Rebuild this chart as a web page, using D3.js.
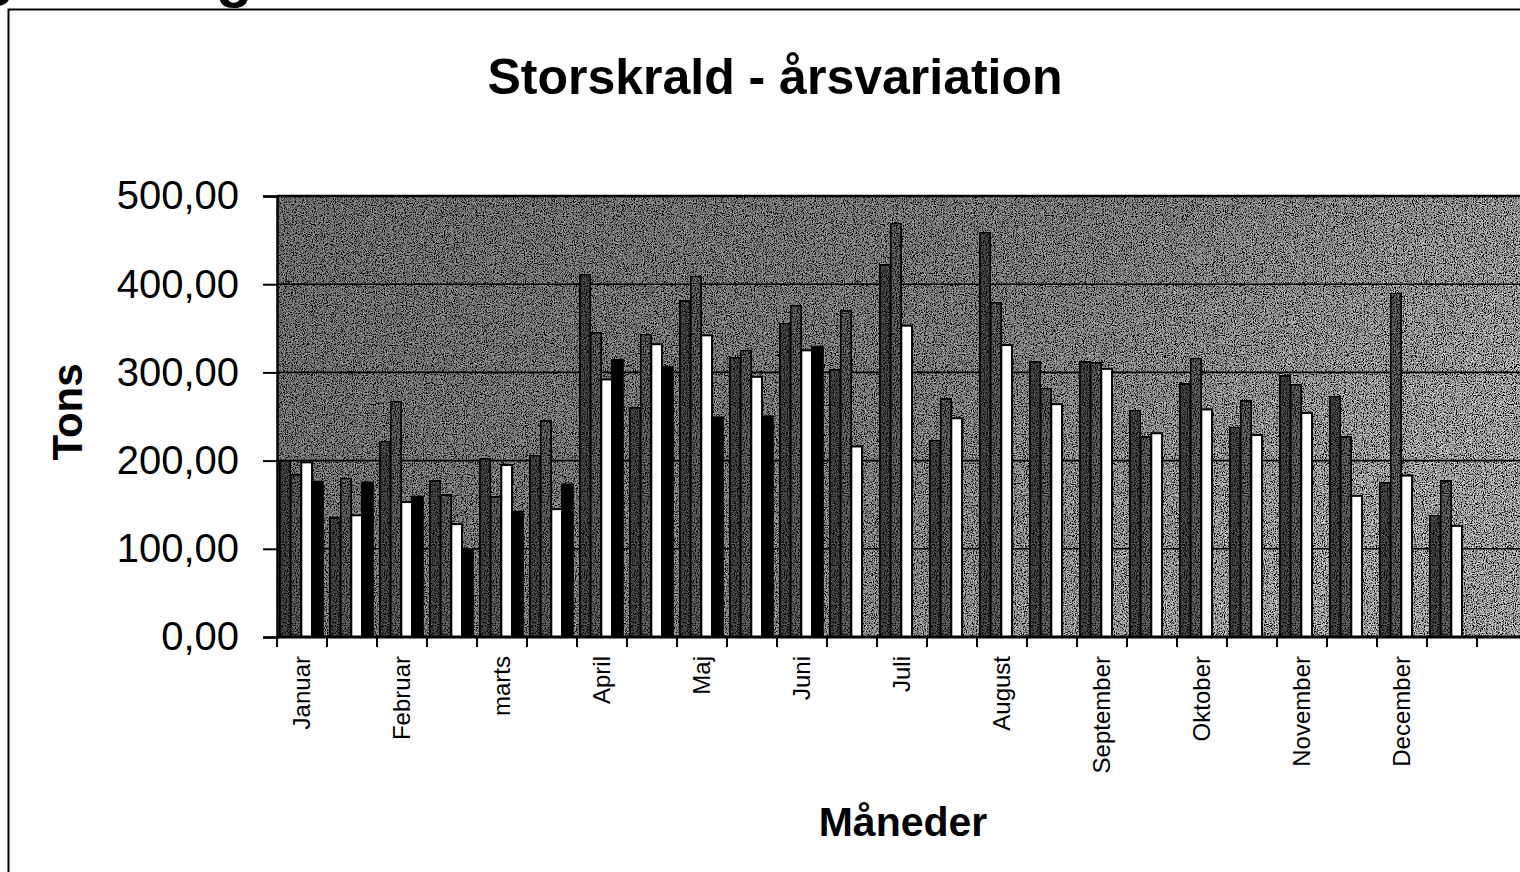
<!DOCTYPE html>
<html>
<head>
<meta charset="utf-8">
<script src="https://cdnjs.cloudflare.com/ajax/libs/d3/7.8.5/d3.min.js"></script>
<style>
  body { margin: 0; background: #fff; }
  text { font-family: Arial, "Liberation Sans", sans-serif; fill: #000; }
</style>
</head>
<body>
<div id="chart"></div>
<script>
// 24 slots, month name on every second one
var months = ["Januar", "", "Februar", "", "marts", "", "April", "", "Maj", "", "Juni", "",
  "Juli", "", "August", "", "September", "", "Oktober", "", "November", "", "December", ""];

// four series (tons)
var serieA = [200, 135, 222, 177, 202, 206, 411, 260, 381, 317, 356, 303,
  422, 223, 459, 312, 312, 257, 287, 238, 296, 273, 175, 138];
var serieB = [184, 180, 267, 161, 159, 245, 345, 343, 409, 325, 376, 370,
  469, 270, 379, 282, 311, 227, 316, 268, 286, 227, 390, 177];
var serieC = [198, 138, 153, 128, 195, 145, 292, 332, 342, 295, 325, 216,
  353, 248, 331, 264, 304, 231, 258, 229, 254, 160, 183, 126];
var serieD = [176, 175, 159, 99, 142, 173, 314, 306, 249, 250, 329, null,
  null, null, null, null, null, null, null, null, null, null, null, null];

var yTicks = [0, 100, 200, 300, 400, 500];

var svgWidth = 1520;
var svgHeight = 872;

var margin = { top: 196, left: 277, bottom: 235 };
var plotRight = 1477;   // last category edge; the gray area runs on to the page edge
var height = svgHeight - margin.top - margin.bottom;

var svg = d3.select("#chart")
  .append("svg")
  .attr("width", svgWidth)
  .attr("height", svgHeight);

// scanned look: grain filter
var defs = svg.append("defs");
var grain = defs.append("filter")
  .attr("id", "grain")
  .attr("x", 0).attr("y", 0).attr("width", 1).attr("height", 1);
grain.append("feTurbulence")
  .attr("type", "fractalNoise")
  .attr("baseFrequency", 0.9)
  .attr("numOctaves", 2)
  .attr("seed", 7)
  .attr("result", "noise");
grain.append("feColorMatrix")
  .attr("in", "noise")
  .attr("type", "saturate")
  .attr("values", 0)
  .attr("result", "gray");
var ct = grain.append("feComponentTransfer").attr("in", "gray").attr("result", "hard");
["feFuncR", "feFuncG", "feFuncB"].forEach(function(f) {
  ct.append(f).attr("type", "linear").attr("slope", 4.5).attr("intercept", -1.75);
});
ct.append("feFuncA").attr("type", "linear").attr("slope", 0).attr("intercept", 1);
grain.append("feBlend")
  .attr("in", "hard")
  .attr("in2", "SourceGraphic")
  .attr("mode", "overlay")
  .attr("result", "mix");
grain.append("feComposite")
  .attr("in", "mix")
  .attr("in2", "SourceGraphic")
  .attr("operator", "in");

var bgGrad = defs.append("linearGradient")
  .attr("id", "bgGrad")
  .attr("x1", 0).attr("y1", 0).attr("x2", 1).attr("y2", 0.4);
bgGrad.append("stop").attr("offset", "0%").attr("stop-color", "#686868");
bgGrad.append("stop").attr("offset", "60%").attr("stop-color", "#767676");
bgGrad.append("stop").attr("offset", "100%").attr("stop-color", "#999999");

// fragments of the page heading above the chart frame
svg.append("text").attr("x", -22).attr("y", -6)
  .attr("font-size", 60).attr("font-weight", "bold").text("g");
svg.append("text").attr("x", 216).attr("y", -4)
  .attr("font-size", 60).attr("font-weight", "bold").text("g");

// chart frame
svg.append("path")
  .attr("d", "M8.5,872 V9.5 H1520")
  .attr("fill", "none")
  .attr("stroke", "#000")
  .attr("stroke-width", 2);

// scales
var idx = d3.range(months.length);
var x0 = d3.scaleBand()
  .domain(idx)
  .range([margin.left, plotRight])
  .paddingInner(0.14)
  .paddingOuter(0.07)
  .align(0.4);

var keys = ["a", "b", "c", "d"];
var x1 = d3.scaleBand()
  .domain(keys)
  .range([0, x0.bandwidth()]);

var y = d3.scaleLinear()
  .domain([0, 500])
  .range([margin.top + height, margin.top]);

// plot background
svg.append("rect")
  .attr("x", margin.left)
  .attr("y", margin.top)
  .attr("width", svgWidth - margin.left)
  .attr("height", height)
  .attr("fill", "url(#bgGrad)")
  .attr("filter", "url(#grain)");

// gridlines
svg.append("g")
  .selectAll("line")
  .data(yTicks.filter(function(d) { return d > 0; }))
  .enter()
  .append("line")
  .attr("x1", margin.left)
  .attr("x2", svgWidth)
  .attr("y1", function(d) { return y(d); })
  .attr("y2", function(d) { return y(d); })
  .attr("stroke", "#000")
  .attr("stroke-width", function(d) { return d === 500 ? 2.5 : 1.6; });

// bars
var rows = idx.map(function(i) {
  return { i: i, a: serieA[i], b: serieB[i], c: serieC[i], d: serieD[i] };
});
var fills = { a: "#3c3c3c", b: "#505050", c: "#ffffff", d: "#000000" };

var groups = svg.append("g")
  .selectAll("g")
  .data(rows)
  .enter()
  .append("g")
  .attr("transform", function(d) { return "translate(" + x0(d.i) + ",0)"; });

groups.selectAll("rect")
  .data(function(d) {
    return keys.map(function(k) { return { key: k, value: d[k] }; })
      .filter(function(e) { return e.value != null; });
  })
  .enter()
  .append("rect")
  .attr("x", function(d) { return x1(d.key); })
  .attr("y", function(d) { return y(d.value); })
  .attr("width", x1.bandwidth())
  .attr("height", function(d) { return y(0) - y(d.value); })
  .attr("fill", function(d) { return fills[d.key]; })
  .attr("filter", function(d) { return (d.key === "a" || d.key === "b") ? "url(#grain)" : null; })
  .attr("stroke", "#000")
  .attr("stroke-width", 2);

// y axis
var leftAxis = d3.axisLeft(y)
  .tickValues(yTicks)
  .tickSize(14)
  .tickPadding(24)
  .tickFormat(function(d) { return d3.format(".2f")(d).replace(".", ","); });

var yAxis = svg.append("g")
  .attr("transform", "translate(" + margin.left + ",0)")
  .call(leftAxis);
yAxis.select(".domain").attr("stroke-width", 2.5);
yAxis.selectAll(".tick line").attr("stroke-width", 2);
yAxis.selectAll("text")
  .attr("font-size", 40)
  .attr("font-family", "Arial, 'Liberation Sans', sans-serif")
  .attr("fill", "#000");

// x axis: ticks at category edges
var edgeScale = d3.scaleLinear().domain([0, months.length]).range([margin.left, plotRight]);
var xAxis = svg.append("g");
xAxis.append("line")
  .attr("x1", margin.left)
  .attr("x2", svgWidth)
  .attr("y1", y(0))
  .attr("y2", y(0))
  .attr("stroke", "#000")
  .attr("stroke-width", 3);
xAxis.selectAll("line.tick")
  .data(d3.range(months.length + 1))
  .enter()
  .append("line")
  .attr("class", "tick")
  .attr("x1", function(d) { return edgeScale(d); })
  .attr("x2", function(d) { return edgeScale(d); })
  .attr("y1", y(0))
  .attr("y2", y(0) + 10)
  .attr("stroke", "#000")
  .attr("stroke-width", 2);

xAxis.selectAll("text")
  .data(rows.filter(function(d) { return months[d.i] !== ""; }))
  .enter()
  .append("text")
  .attr("transform", function(d) {
    var cx = edgeScale(d.i + 0.5) + 8;
    return "translate(" + cx + "," + (y(0) + 19) + ") rotate(-90)";
  })
  .attr("text-anchor", "end")
  .attr("font-size", 24)
  .text(function(d) { return months[d.i]; });

// titles
svg.append("text")
  .attr("x", 775)
  .attr("y", 94)
  .attr("text-anchor", "middle")
  .attr("font-size", 50)
  .attr("font-weight", "bold")
  .text("Storskrald - årsvariation");

svg.append("text")
  .attr("transform", "translate(82,412) rotate(-90)")
  .attr("text-anchor", "middle")
  .attr("font-size", 42)
  .attr("font-weight", "bold")
  .text("Tons");

svg.append("text")
  .attr("x", 903)
  .attr("y", 836)
  .attr("text-anchor", "middle")
  .attr("font-size", 41)
  .attr("font-weight", "bold")
  .text("Måneder");
</script>
</body>
</html>
